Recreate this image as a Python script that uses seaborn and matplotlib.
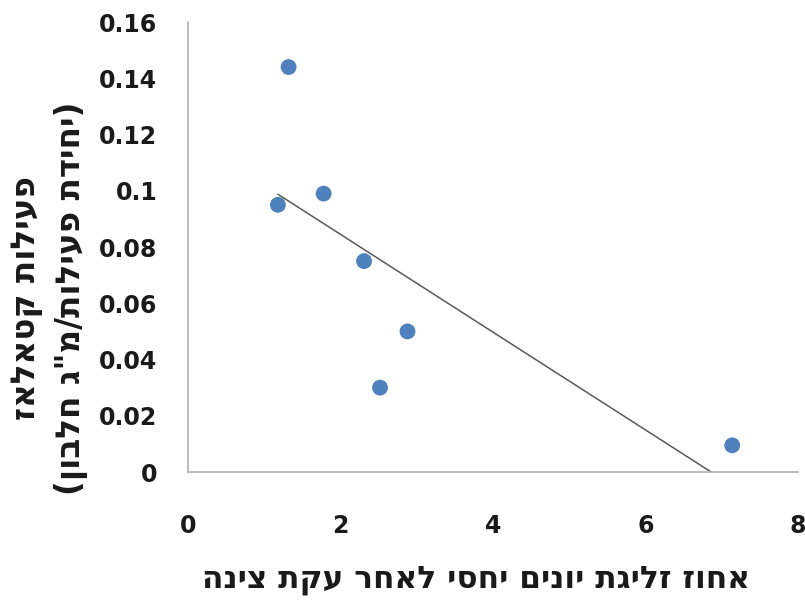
import matplotlib
matplotlib.use("Agg")
import matplotlib.pyplot as plt
import pandas as pd
import seaborn as sns

# ion leakage (%) vs catalase activity
leakage = [1.18, 1.32, 1.78, 2.31, 2.52, 2.88, 7.14]
activity = [0.095, 0.144, 0.099, 0.075, 0.030, 0.050, 0.0095]
x_ticks = [0, 2, 4, 6, 8]
y_ticks = [0, 0.02, 0.04, 0.06, 0.08, 0.1, 0.12, 0.14, 0.16]
y_tick_labels = ["0", "0.02", "0.04", "0.06", "0.08", "0.1", "0.12", "0.14", "0.16"]

x_title = "אחוז זליגת יונים יחסי לאחר עקת צינה"
y_title_1 = "פעילות קטאלאז"
y_title_2 = "(יחידת פעילות/מ\"ג חלבון)"


def visual(text):
    # matplotlib has no bidi support: reverse for right-to-left display
    swap = {"(": ")", ")": "("}
    return "".join(swap.get(c, c) for c in text[::-1])


sns.set_style("white")
plt.rcParams["font.family"] = ["DejaVu Sans"]
plt.rcParams["font.weight"] = "bold"

data = pd.DataFrame({"leakage": leakage, "activity": activity})

fig = plt.figure(figsize=(8.05, 6.04), dpi=100)
ax = fig.add_axes([0.2335, 0.2185, 0.7575, 0.745])

sns.regplot(data=data, x="leakage", y="activity", ax=ax, ci=None, scatter=False,
            truncate=True, line_kws={"color": "#595959", "linewidth": 1.1})
sns.scatterplot(data=data, x="leakage", y="activity", ax=ax, color="#4F81BD",
                s=130, edgecolor="none", zorder=3)

ax.set_xlim(0, 8)
ax.set_ylim(0, 0.16)
ax.set_xticks(x_ticks)
ax.set_yticks(y_ticks)
ax.set_yticklabels(y_tick_labels)
ax.tick_params(axis="both", length=0, labelsize=17, colors="#1a1a1a")
ax.tick_params(axis="x", pad=30)
ax.tick_params(axis="y", pad=22)
for label in ax.get_xticklabels() + ax.get_yticklabels():
    label.set_fontweight("bold")

for side in ["top", "right"]:
    ax.spines[side].set_visible(False)
for side in ["left", "bottom"]:
    ax.spines[side].set_color("#B0B0B0")
    ax.spines[side].set_linewidth(1.2)

ax.set_xlabel("")
ax.set_ylabel("")
fig.text(476 / 805, 1 - 580 / 604, visual(x_title), ha="center", va="center",
         fontsize=22.5, fontweight="bold", color="#1a1a1a")
fig.text(49 / 805, 1 - 298 / 604, visual(y_title_1) + "\n" + visual(y_title_2),
         ha="center", va="center", rotation=90, fontsize=23.5, fontweight="bold",
         linespacing=1.4, color="#1a1a1a", multialignment="center")

fig.savefig("out.png", dpi=100)
